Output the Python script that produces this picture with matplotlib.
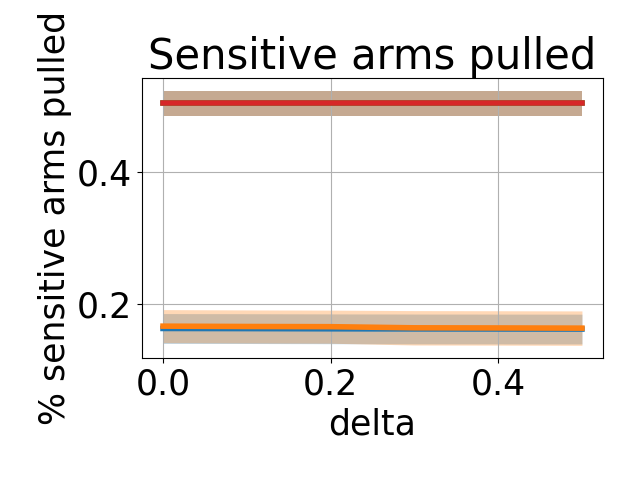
import numpy as np
import matplotlib
matplotlib.use('Agg')
import matplotlib.pyplot as plt

# delta values on the x axis
deltas = [0.0, 0.1, 0.2, 0.3, 0.4, 0.5]

# mean and spread for each of the four runs
blue_mean = [0.1635, 0.1633, 0.1630, 0.1628, 0.1627, 0.1626]
blue_std = [0.0225, 0.0225, 0.0225, 0.0225, 0.0225, 0.0225]
orange_mean = [0.1670, 0.1665, 0.1662, 0.1645, 0.1643, 0.1640]
orange_std = [0.0250, 0.0250, 0.0250, 0.0260, 0.0260, 0.0260]
green_mean = [0.5035, 0.5035, 0.5035, 0.5035, 0.5035, 0.5035]
green_std = [0.0192, 0.0192, 0.0192, 0.0192, 0.0192, 0.0192]
red_mean = [0.5035, 0.5035, 0.5035, 0.5035, 0.5035, 0.5035]
red_std = [0.0185, 0.0185, 0.0185, 0.0185, 0.0185, 0.0185]

series = [
    (blue_mean, blue_std, 'tab:blue'),
    (orange_mean, orange_std, 'tab:orange'),
    (green_mean, green_std, 'tab:green'),
    (red_mean, red_std, 'tab:red'),
]

fig, ax = plt.subplots(figsize=(6.4, 4.8))
x = np.array(deltas)
for mean, std, color in series:
    m = np.array(mean)
    s = np.array(std)
    ax.plot(x, m, color=color, linewidth=4)
    ax.fill_between(x, m - s, m + s, color=color, alpha=0.3, linewidth=0)

ax.set_title('Sensitive arms pulled', fontsize=30)
ax.set_xlabel('delta', fontsize=25)
ax.set_ylabel('% sensitive arms pulled', fontsize=25)
ax.tick_params(labelsize=25)
ax.grid(True)
plt.subplots_adjust(left=0.222, right=0.942, top=0.8375, bottom=0.254)
fig.savefig('out.png')
